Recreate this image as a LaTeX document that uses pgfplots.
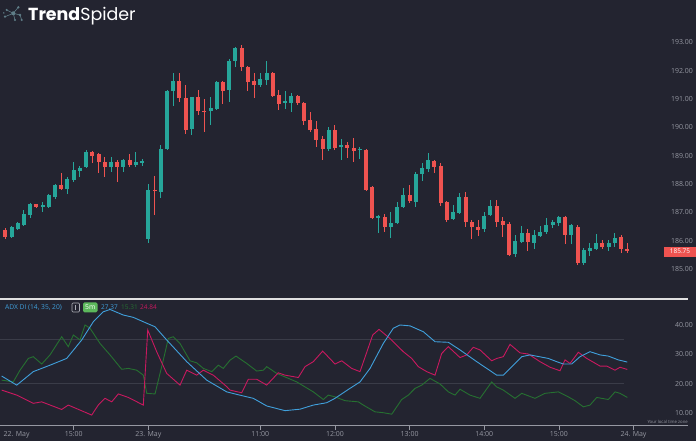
\documentclass[border=0pt]{standalone}
\usepackage{pgfplots}
\pgfplotsset{compat=1.18}
\usepackage{pgfplotstable}
\usepackage{fontspec}
\setmainfont{Open Sans}
\newfontfamily\logofont{Poppins}
\definecolor{bg}{RGB}{35,36,48}
\definecolor{upc}{RGB}{38,166,154}
\definecolor{dnc}{RGB}{239,83,80}
\definecolor{adx}{RGB}{64,160,220}
\definecolor{dip}{RGB}{38,112,48}
\definecolor{dim}{RGB}{200,25,95}
\definecolor{lbl}{RGB}{150,152,162}
\definecolor{gridc}{RGB}{58,60,72}
\definecolor{fivem}{RGB}{92,184,92}
\definecolor{logoc}{RGB}{95,125,135}

\pgfplotstableread{
i o h l c
-10 186.14 186.52 186.08 186.47
-9 186.41 186.65 186.38 186.61
-8 186.55 187.08 186.52 186.94
-7 186.90 187.34 186.79 187.30
-5 187.19 187.37 187.02 187.26
-4 187.20 187.65 187.17 187.61
-3 187.53 188.00 187.46 187.97
-1 187.83 188.26 187.65 188.18
0 188.14 188.79 188.08 188.50
1 188.47 188.64 188.26 188.58
2 188.59 189.20 188.57 189.15
6 188.59 188.97 188.44 188.79
8 188.59 188.87 188.44 188.85
10 188.67 189.15 188.59 188.79
11 188.76 188.90 188.64 188.82
12 186.05 188.00 185.91 187.79
14 187.73 189.38 187.50 189.23
15 189.23 191.33 189.20 191.30
16 191.27 191.91 190.76 191.64
19 189.93 191.09 189.75 191.07
22 190.58 191.09 190.09 190.70
23 190.65 191.63 190.62 191.60
25 191.31 192.41 190.91 192.33
26 192.33 192.84 192.15 192.80
30 191.50 191.91 191.44 191.70
31 191.68 192.33 191.50 191.91
34 190.88 191.27 190.64 190.95
35 190.86 191.21 190.55 191.12
41 189.24 190.03 189.18 189.91
43 189.32 189.58 188.85 189.38
46 189.22 189.32 188.87 189.25
49 186.81 186.89 186.28 186.87
51 186.48 187.03 186.08 186.64
52 186.62 187.38 186.60 187.20
53 187.18 187.85 187.14 187.61
55 187.38 188.44 187.20 188.35
56 188.35 188.76 188.09 188.56
57 188.53 189.09 188.42 188.85
61 186.76 187.26 186.72 187.00
62 186.98 187.67 186.96 187.53
66 186.40 187.03 186.32 186.87
67 186.91 187.44 186.87 187.23
71 185.52 186.20 185.41 186.00
72 185.97 186.52 185.91 186.26
74 185.91 186.38 185.71 186.20
75 186.16 186.52 186.12 186.32
76 186.29 186.79 186.23 186.55
77 186.55 186.73 186.44 186.67
78 186.64 186.87 186.52 186.85
80 186.20 186.58 185.88 186.55
82 185.20 185.73 185.14 185.67
83 185.62 185.91 185.45 185.73
84 185.70 186.23 185.67 185.91
86 185.79 186.03 185.62 185.91
87 185.91 186.28 185.79 186.08
}\upcandles

\pgfplotstableread{
i o h l c
-11 186.38 186.44 186.05 186.14
-6 187.29 187.31 187.16 187.19
-2 187.98 188.38 187.80 187.82
3 189.12 189.17 188.76 189.00
4 189.05 189.11 188.38 188.77
5 188.79 188.97 188.26 188.59
7 188.79 188.85 188.08 188.59
9 188.85 189.05 188.59 188.67
13 187.79 188.29 186.91 187.76
17 191.64 191.91 190.91 191.03
18 191.03 191.50 189.77 189.91
20 191.07 191.33 190.44 190.59
21 190.59 191.00 189.85 190.56
24 191.60 191.65 190.83 191.29
27 192.80 192.92 192.01 192.13
28 192.13 192.18 191.27 191.62
29 191.65 191.91 191.03 191.50
32 191.91 191.94 191.09 191.12
33 191.14 191.33 190.62 190.83
36 191.12 191.16 190.80 190.88
37 190.86 190.88 190.09 190.21
38 190.27 190.53 189.85 189.91
39 189.93 190.21 189.32 189.56
40 189.58 189.70 188.85 189.24
42 189.91 190.09 189.20 189.26
44 189.38 189.50 188.91 189.26
45 189.26 189.62 188.79 189.18
47 189.20 189.22 187.77 187.79
48 187.89 187.93 186.75 186.79
50 186.85 186.94 186.32 186.50
54 187.61 187.97 187.32 187.41
58 188.83 188.85 188.38 188.62
59 188.64 188.76 187.23 187.34
60 187.38 187.41 186.67 186.73
63 187.53 187.73 186.50 186.67
64 186.67 186.73 186.05 186.50
65 186.50 186.73 186.17 186.38
68 187.23 187.44 186.50 186.67
69 186.71 186.85 186.14 186.55
70 186.58 186.67 185.45 185.49
73 186.26 186.40 185.65 185.94
79 186.85 186.87 185.88 186.20
81 186.50 186.55 185.14 185.22
85 185.91 186.03 185.70 185.77
88 186.12 186.20 185.56 185.70
89 185.71 185.91 185.56 185.64
}\dncandles

\pgfplotsset{
  wick/.style={draw=none, mark=none, forget plot,
    error bars/.cd, y dir=both, y explicit, error mark=none,
    error bar style={draw=#1, line width=1bp}},
  body/.style={draw=none, mark=none, forget plot,
    error bars/.cd, y dir=both, y explicit, error mark=none,
    error bar style={draw=#1, line width=4bp}},
}

\begin{document}
\begin{tikzpicture}
\path[use as bounding box] (0,0) rectangle (696bp,441bp);
\fill[bg] (0,0) rectangle (696bp,441bp);

% ---------- price panel ----------
\begin{axis}[
  at={(0bp,142bp)}, anchor=south west, scale only axis,
  width=688bp, height=299bp,
  xmin=-11.85, xmax=98.76, ymin=183.94, ymax=194.5,
  axis line style={draw=none},
  xtick=\empty,
  ytick={185,186,...,193},
  ytick pos=right, ytick style={draw=none},
  yticklabel style={anchor=east, inner sep=0pt, xshift=5bp, text=lbl,
    font=\fontsize{7}{8}\selectfont,
    /pgf/number format/.cd, fixed, fixed zerofill, precision=2, 1000 sep={}, assume math mode=true},
]
\addplot[wick=upc] table[x=i, y expr={(\thisrow{h}+\thisrow{l})/2}, y error expr={(\thisrow{h}-\thisrow{l})/2}] {\upcandles};
\addplot[body=upc] table[x=i, y expr={(\thisrow{o}+\thisrow{c})/2}, y error expr={abs(\thisrow{c}-\thisrow{o})/2}] {\upcandles};
\addplot[wick=dnc] table[x=i, y expr={(\thisrow{h}+\thisrow{l})/2}, y error expr={(\thisrow{h}-\thisrow{l})/2}] {\dncandles};
\addplot[body=dnc] table[x=i, y expr={(\thisrow{o}+\thisrow{c})/2}, y error expr={abs(\thisrow{c}-\thisrow{o})/2}] {\dncandles};
\end{axis}

% ---------- indicator panel ----------
\begin{axis}[
  at={(0bp,16bp)}, anchor=south west, scale only axis,
  width=688bp, height=126bp,
  xmin=-11.85, xmax=98.76, ymin=5.91, ymax=48.86,
  axis line style={draw=none},
  clip=true,
  xtick={0,12,30,42,54,66,78,90},
  xticklabels={15:00,23. May,11:00,12:00,13:00,14:00,15:00,24. May},
  xtick pos=left, tick align=outside, major tick length=5bp,
  xtick style={draw=lbl, line width=0.7bp},
  xticklabel style={text=lbl, inner sep=1.5bp, font=\fontsize{7}{8}\selectfont},
  ytick={10,20,30,40},
  ytick pos=right, ytick style={draw=none},
  yticklabel style={anchor=east, inner sep=0pt, text=lbl,
    font=\fontsize{7}{8}\selectfont,
    /pgf/number format/.cd, fixed, fixed zerofill, precision=2, assume math mode=true},
]
\addplot[gridc, line width=0.7bp, forget plot] coordinates {(-11.85,35) (88.5,35)};
\addplot[gridc, line width=0.7bp, forget plot] coordinates {(-11.85,20) (88.5,20)};

\addplot[dip, line width=0.9bp] coordinates {
(-11.58,21.2) (-9.71,20.6) (-8.63,24.6) (-7.30,28.6) (-6.50,29.2) (-5.14,26.7) (-3.81,29.8) (-1.93,36.0) (-0.87,32.6) (-0.06,36.6) (1.01,34.9) (1.82,40.0) (2.62,38.9) (4.23,33.7) (5.84,29.8) (7.72,24.9) (8.78,25.2) (10.13,24.6) (11.19,22.9) (11.74,16.7) (13.07,16.5) (14.41,28.1) (15.21,35.4) (16.01,36.0) (17.09,33.7) (18.70,27.8) (19.77,27.1) (20.84,25.2) (22.19,24.1) (23.25,26.3) (24.05,25.2) (25.13,28.0) (26.09,29.4) (27.81,26.9) (29.42,24.3) (30.48,24.6) (31.03,25.8) (32.64,23.5) (35.85,20.6) (38.52,17.2) (40.13,14.6) (40.93,16.1) (42.01,15.5) (43.62,14.2) (45.76,13.8) (46.56,12.7) (48.44,10.4) (49.77,10.1) (51.13,9.6) (52.73,14.6) (53.79,16.1) (54.87,18.4) (55.95,19.5) (57.28,21.8) (58.89,19.9) (60.23,17.2) (61.30,16.1) (62.11,18.1) (63.71,16.1) (65.32,15.0) (67.20,20.6) (68.01,18.9) (69.07,17.8) (70.95,15.0) (72.03,16.7) (74.16,15.0) (75.77,16.7) (77.91,17.2) (79.52,15.5) (80.59,14.2) (81.93,12.1) (83.01,12.7) (84.08,15.3) (85.95,14.6) (87.03,17.2) (87.83,16.7) (89,15.31)};

\addplot[dim, line width=0.9bp] coordinates {
(-11.58,17.8) (-9.16,16.1) (-6.50,13.3) (-5.14,13.8) (-1.93,11.2) (-0.87,12.7) (1.01,11.0) (2.89,9.3) (3.95,12.7) (5.03,15.0) (6.11,13.8) (7.17,16.5) (8.78,15.3) (11.19,12.7) (11.90,38.3) (13.34,30.9) (14.95,23.5) (17.09,19.5) (18.17,24.6) (19.77,22.9) (20.84,24.6) (22.44,22.9) (24.60,19.0) (25.13,17.8) (27.01,16.9) (28.07,21.5) (29.42,21.5) (31.03,19.5) (32.89,23.7) (33.97,22.9) (36.11,22.1) (37.19,25.8) (38.52,27.5) (40.03,31.1) (42.01,26.7) (43.09,27.8) (44.69,25.2) (46.03,24.1) (48.07,36.6) (49.08,38.5) (50.85,35.4) (52.99,30.9) (54.34,28.6) (55.40,25.8) (56.75,24.1) (58.09,22.9) (59.16,30.3) (60.23,32.6) (62.11,28.9) (63.18,29.8) (64.24,32.4) (65.32,31.5) (67.20,27.8) (68.01,28.6) (69.07,29.2) (70.14,33.4) (71.75,30.5) (73.09,30.1) (74.97,27.5) (76.58,25.6) (78.18,24.4) (78.99,28.1) (79.79,26.9) (81.13,30.7) (82.48,28.6) (84.62,26.0) (85.69,26.0) (87.03,24.6) (87.83,25.6) (89,24.84)};

\addplot[adx, line width=0.9bp] coordinates {
(-11.58,22.6) (-9.16,19.5) (-6.50,24.1) (-3.81,26.3) (-1.13,28.6) (1.29,34.9) (3.15,41.1) (4.76,44.5) (5.84,45.3) (7.97,43.4) (9.58,42.6) (11.74,40.6) (13.07,39.4) (14.95,34.9) (18.17,27.5) (21.38,21.2) (24.60,17.2) (27.27,15.8) (28.87,15.0) (31.03,12.4) (33.97,10.8) (36.38,11.3) (38.52,12.7) (40.68,13.5) (42.01,15.0) (44.42,18.4) (46.03,20.6) (47.64,25.2) (49.77,33.7) (51.38,38.9) (52.46,40.0) (54.07,39.7) (56.21,37.7) (58.09,34.3) (60.23,34.1) (62.11,31.5) (64.79,27.5) (66.40,25.2) (68.01,22.9) (69.07,22.9) (70.68,26.3) (72.03,29.2) (73.36,29.8) (76.30,28.6) (77.65,27.5) (78.71,26.7) (80.06,26.7) (81.40,29.2) (83.01,30.9) (84.62,29.8) (85.95,29.4) (87.56,28.1) (89,27.37)};
\end{axis}

% bottom axis line and first date label
\draw[lbl, line width=0.7bp] (0,16bp) -- (688bp,16bp);
\node[anchor=north west, inner sep=1.5bp, text=lbl, font=\fontsize{7}{8}\selectfont] at (2bp,11bp) {22. May};

% separator
\draw[white!88!black, line width=1.5bp] (0,142bp) -- (688bp,142bp);

% indicator header
\node[anchor=west, inner sep=0pt, text=adx, font=\fontsize{6.7}{8}\selectfont] at (5bp,133.3bp) {ADX DI (14, 35, 20)};
\draw[lbl!80!white, line width=0.6bp, rounded corners=1bp] (72bp,129bp) rectangle (79.5bp,138bp);
\draw[lbl!80!white, line width=0.6bp] (75.75bp,131bp) -- (75.75bp,136bp);
\fill[fivem, rounded corners=1.5bp] (83bp,128.5bp) rectangle (97.5bp,138.5bp);
\node[text=white, inner sep=0pt, font=\fontsize{6.8}{8}\selectfont] at (90.25bp,133.5bp) {5m};
\node[anchor=west, inner sep=0pt, text=adx, font=\fontsize{6.5}{8}\selectfont] at (101bp,133.3bp) {27.37};
\node[anchor=west, inner sep=0pt, text=dip, font=\fontsize{6.5}{8}\selectfont] at (121bp,133.3bp) {15.31};
\node[anchor=west, inner sep=0pt, text=dim, font=\fontsize{6.5}{8}\selectfont] at (140bp,133.3bp) {24.84};

% time zone note
\node[anchor=base east, inner sep=0pt, text=lbl, font=\fontsize{4.3}{5}\selectfont] at (688bp,18bp) {Your local time zone};

% last price tag
\fill[dnc] (664bp,184.3bp) rectangle (696bp,194.3bp);
\node[text=white, inner sep=0pt, font=\fontsize{6.5}{7}\selectfont] at (680bp,189.3bp) {185.75};

% logo
\begin{scope}[logoc, line width=0.6bp]
\draw (13.3bp,427.7bp) -- (6.7bp,431bp);
\draw (13.3bp,427.7bp) -- (18.3bp,433.7bp);
\draw (13.3bp,427.7bp) -- (20bp,426bp);
\draw (13.3bp,427.7bp) -- (5bp,424.3bp);
\draw (13.3bp,427.7bp) -- (15bp,421bp);
\draw (20bp,426bp) -- (21.7bp,421bp);
\fill (13.3bp,427.7bp) circle (2bp);
\fill (6.7bp,431bp) circle (1.2bp);
\fill (18.3bp,433.7bp) circle (1.3bp);
\fill (20bp,426bp) circle (1.3bp);
\fill (5bp,424.3bp) circle (1.2bp);
\fill (15bp,421bp) circle (1.2bp);
\fill (21.7bp,421bp) circle (1.2bp);
\fill (3.8bp,428bp) circle (0.8bp);
\end{scope}
\node[anchor=base west, inner sep=0pt, text=white] at (28bp,420bp) {\logofont\fontsize{17.5}{18}\selectfont\bfseries Trend\mdseries Spider};
\end{tikzpicture}
\end{document}
